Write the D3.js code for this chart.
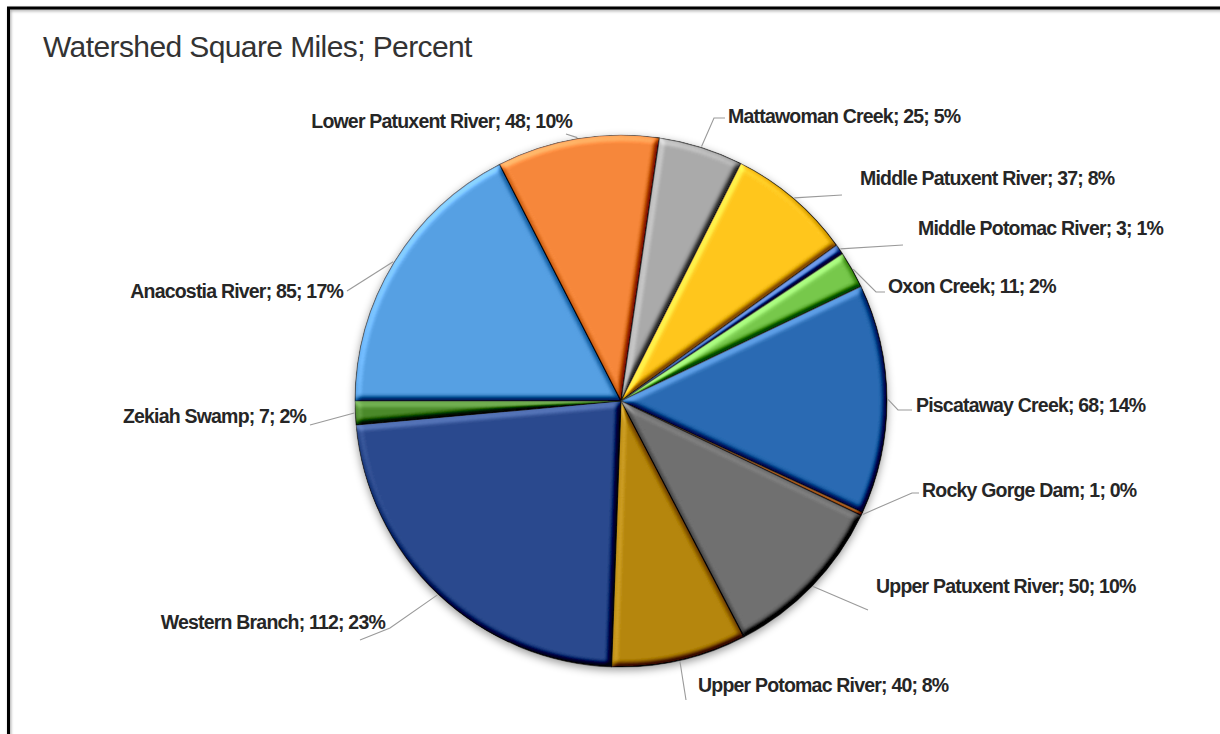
<!DOCTYPE html>
<html>
<head>
<meta charset="utf-8">
<script src="https://cdn.jsdelivr.net/npm/d3@7"></script>
<style>
  html, body { margin: 0; padding: 0; background: #fff; }
  svg { display: block; }
</style>
</head>
<body>
<svg id="chart" width="1220" height="734"></svg>
<script>
// Watershed areas (square miles) and the rounded share shown in each label
const categories = [
  "Anacostia River", "Lower Patuxent River", "Mattawoman Creek", "Middle Patuxent River",
  "Middle Potomac River", "Oxon Creek", "Piscataway Creek", "Rocky Gorge Dam",
  "Upper Patuxent River", "Upper Potomac River", "Western Branch", "Zekiah Swamp"
];
const squareMiles = [85, 48, 25, 37, 3, 11, 68, 1, 50, 40, 112, 7];
const percentLabels = ["17%", "10%", "5%", "8%", "1%", "2%", "14%", "0%", "10%", "8%", "23%", "2%"];
const sliceColors = [
  "#56A0E3", "#F6873A", "#AAAAAA", "#FFC61E", "#3A66B8", "#77C84C",
  "#2A6BB3", "#A55518", "#6F6F6F", "#B5860C", "#2B4A8E", "#4C8A2C"
];

const svg = d3.select("#chart");
const W = 1220, H = 734;
const cx = 621, cy = 401, R = 266;

// ---- frame (top and left rule with a soft shadow) ----
const defs = svg.append("defs");
const frameShadow = defs.append("filter").attr("id", "frameShadow")
  .attr("x", "-5%").attr("y", "-5%").attr("width", "110%").attr("height", "110%");
frameShadow.append("feDropShadow").attr("dx", 1).attr("dy", 1.5)
  .attr("stdDeviation", 1.5).attr("flood-color", "#000").attr("flood-opacity", 0.35);

svg.append("rect").attr("width", W).attr("height", H).attr("fill", "#fff");

svg.append("path")
  .attr("d", `M8.5,${H + 5} L8.5,8 L${W + 5},8`)
  .attr("fill", "none").attr("stroke", "#000").attr("stroke-width", 3)
  .attr("filter", "url(#frameShadow)");

// ---- title ----
svg.append("text")
  .attr("x", 43).attr("y", 57)
  .attr("font-family", "'Liberation Sans', Arial, sans-serif")
  .attr("font-size", 30).attr("letter-spacing", "-0.6px")
  .attr("fill", "#333333")
  .text("Watershed Square Miles; Percent");

// ---- filters: pie shadow and per-slice bevel ----
const pieShadow = defs.append("filter").attr("id", "pieShadow")
  .attr("x", "-10%").attr("y", "-10%").attr("width", "120%").attr("height", "120%");
pieShadow.append("feDropShadow").attr("dx", 0).attr("dy", 3)
  .attr("stdDeviation", 4).attr("flood-color", "#000").attr("flood-opacity", 0.4);

const bevel = defs.append("filter").attr("id", "bevel")
  .attr("x", "-10%").attr("y", "-10%").attr("width", "120%").attr("height", "120%")
  .attr("color-interpolation-filters", "sRGB");
bevel.append("feGaussianBlur").attr("in", "SourceAlpha").attr("stdDeviation", 3).attr("result", "blur");
const diffuse = bevel.append("feDiffuseLighting")
  .attr("in", "blur").attr("surfaceScale", 6).attr("diffuseConstant", 1)
  .attr("lighting-color", "#fff").attr("result", "light");
diffuse.append("feDistantLight").attr("azimuth", 235).attr("elevation", 45);
// flat areas keep their colour; edges facing the light brighten, the others darken
bevel.append("feComposite")
  .attr("in", "SourceGraphic").attr("in2", "light").attr("operator", "arithmetic")
  .attr("k1", 0).attr("k2", 1).attr("k3", 0.7).attr("k4", -0.495).attr("result", "lit");
bevel.append("feComposite").attr("in", "lit").attr("in2", "SourceAlpha").attr("operator", "in");

// ---- pie ----
const data = categories.map((name, i) => ({
  name, value: squareMiles[i], pct: percentLabels[i], color: sliceColors[i]
}));

const pie = d3.pie()
  .value(d => d.value)
  .sort(null)
  .startAngle(1.5 * Math.PI)
  .endAngle(3.5 * Math.PI);

const arcs = pie(data);
const arc = d3.arc().innerRadius(0).outerRadius(R);
const edgeArc = d3.arc().innerRadius(R + 1).outerRadius(R + 1);

const pieG = svg.append("g")
  .attr("transform", `translate(${cx},${cy})`)
  .attr("filter", "url(#pieShadow)");

pieG.selectAll("path.slice")
  .data(arcs)
  .join("path")
  .attr("class", "slice")
  .attr("d", arc)
  .attr("fill", d => d.data.color)
  .attr("stroke", "#1e1e1e")
  .attr("stroke-opacity", 0.65)
  .attr("stroke-width", 1.2)
  .attr("stroke-linejoin", "round")
  .attr("filter", "url(#bevel)");

// ---- data labels with leader lines ----
// label placement: text anchor point, alignment and leader bend points
const labelLayout = {
  "Anacostia River":      { x: 343, y: 291, anchor: "end",   bends: [[347, 291]] },
  "Lower Patuxent River": { x: 572, y: 121, anchor: "end",   bends: [[566, 134]] },
  "Mattawoman Creek":     { x: 728, y: 116, anchor: "start", bends: [[714, 118], [725, 118]] },
  "Middle Patuxent River":{ x: 860, y: 178, anchor: "start", bends: [[842, 195]] },
  "Middle Potomac River": { x: 918, y: 228, anchor: "start", bends: [[903, 245]] },
  "Oxon Creek":           { x: 888, y: 286, anchor: "start", bends: [[876, 292], [885, 292]] },
  "Piscataway Creek":     { x: 916, y: 405, anchor: "start", bends: [[898, 410], [912, 410]] },
  "Rocky Gorge Dam":      { x: 922, y: 490, anchor: "start", bends: [[912, 493], [919, 493]] },
  "Upper Patuxent River": { x: 876, y: 586, anchor: "start", bends: [[868, 610]] },
  "Upper Potomac River":  { x: 698, y: 685, anchor: "start", bends: [[686, 700]] },
  "Western Branch":       { x: 385, y: 622, anchor: "end",   bends: [[390, 628], [360, 640]] },
  "Zekiah Swamp":         { x: 306, y: 416, anchor: "end",   bends: [[310, 425]] }
};

const line = d3.line();
const labelG = svg.append("g");

labelG.selectAll("path.leader")
  .data(arcs)
  .join("path")
  .attr("class", "leader")
  .attr("d", d => {
    const [ex, ey] = edgeArc.centroid(d);
    const pts = [[cx + ex, cy + ey]].concat(labelLayout[d.data.name].bends);
    return line(pts);
  })
  .attr("fill", "none")
  .attr("stroke", "#9a9a9a")
  .attr("stroke-width", 1.1);

labelG.selectAll("text.label")
  .data(arcs)
  .join("text")
  .attr("class", "label")
  .attr("x", d => labelLayout[d.data.name].x)
  .attr("y", d => labelLayout[d.data.name].y)
  .attr("text-anchor", d => labelLayout[d.data.name].anchor)
  .attr("dominant-baseline", "central")
  .attr("font-family", "'Liberation Sans', Arial, sans-serif")
  .attr("font-weight", "bold")
  .attr("font-size", 19.5)
  .attr("letter-spacing", "-0.8px")
  .attr("fill", "#262626")
  .text(d => `${d.data.name}; ${d.data.value}; ${d.data.pct}`);
</script>
</body>
</html>
